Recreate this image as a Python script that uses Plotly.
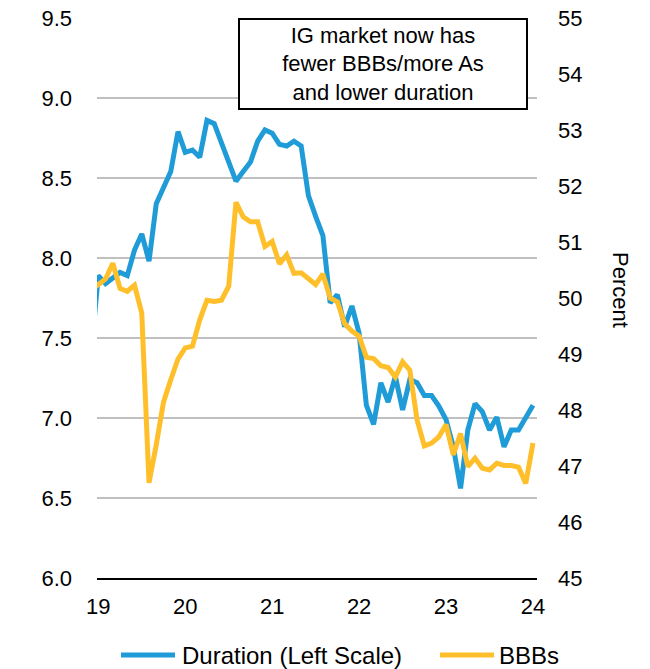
import plotly.graph_objects as go

# Monthly observations, Dec 2018 through Jan 2024 (x in two-digit years)
months_start = 18 + 11 / 12
n_months = 62
x_years = [months_start + k / 12 for k in range(n_months)]

duration = [
    7.40,
    7.89, 7.84, 7.875, 7.91, 7.89, 8.05, 8.15, 7.98, 8.34, 8.44, 8.54, 8.79,
    8.66, 8.675, 8.63, 8.86, 8.84, 8.72, 8.59, 8.48, 8.54, 8.60, 8.73, 8.80,
    8.78, 8.71, 8.70, 8.73, 8.70, 8.39, 8.26, 8.14, 7.72, 7.77, 7.57, 7.70,
    7.53, 7.08, 6.96, 7.22, 7.10, 7.26, 7.05, 7.24, 7.22, 7.14, 7.14, 7.075,
    6.99, 6.82, 6.56, 6.925, 7.09, 7.04, 6.925, 7.005, 6.82, 6.925, 6.925, 7.01,
    7.08,
]

bbbs = [
    50.14,
    50.23, 50.34, 50.62, 50.17, 50.12, 50.23, 49.73, 46.70, 47.38, 48.14, 48.54, 48.91,
    49.11, 49.14, 49.61, 49.96, 49.94, 49.96, 50.21, 51.71, 51.45, 51.36, 51.36, 50.92,
    51.01, 50.61, 50.77, 50.44, 50.45, 50.35, 50.24, 50.43, 50.00, 49.93, 49.54, 49.41,
    49.32, 48.94, 48.92, 48.79, 48.76, 48.59, 48.86, 48.71, 47.82, 47.36, 47.41, 47.52,
    47.74, 47.20, 47.58, 46.99, 47.14, 46.96, 46.93, 47.05, 47.01, 47.01, 46.98, 46.69,
    47.41,
]

series_names = ["Duration (Left Scale)", "BBBs"]
x_tickvals = [19, 20, 21, 22, 23, 24]
x_ticktext = ["19", "20", "21", "22", "23", "24"]
left_tickvals = [6.0, 6.5, 7.0, 7.5, 8.0, 8.5, 9.0, 9.5]
right_tickvals = [45, 46, 47, 48, 49, 50, 51, 52, 53, 54, 55]

BLUE = "#1F9BD7"
YELLOW = "#FFBF2B"
FONT = "Liberation Sans, Arial, sans-serif"

# plot area in pixels: left 97, right 537, top 18, bottom 578
PL, PW, PB, PH = 97, 440, 578, 560


def px_x(p):
    return (p - PL) / PW


def px_y(p):
    return (PB - p) / PH


fig = go.Figure()
fig.add_trace(go.Scatter(
    x=x_years, y=duration, mode="lines", name=series_names[0],
    line=dict(color=BLUE, width=5), yaxis="y",
))
fig.add_trace(go.Scatter(
    x=x_years, y=bbbs, mode="lines", name=series_names[1],
    line=dict(color=YELLOW, width=5), yaxis="y2",
))

# legend drawn below the plot: swatch lines + labels
legend_items = [(series_names[0], BLUE, 121, 175, 180), (series_names[1], YELLOW, 440, 494, 497)]
legend_y = 655
shapes = []
legend_labels = []
for name, color, x0, x1, tx in legend_items:
    shapes.append(dict(
        type="line", xref="paper", yref="paper",
        x0=px_x(x0), x1=px_x(x1), y0=px_y(legend_y), y1=px_y(legend_y),
        line=dict(color=color, width=5),
    ))
    legend_labels.append(dict(
        text=name, xref="paper", yref="paper",
        x=px_x(tx), y=px_y(legend_y), xanchor="left", yanchor="middle",
        showarrow=False, font=dict(size=24),
    ))

fig.update_layout(
    width=650, height=669,
    margin=dict(l=97, r=113, t=18, b=91, autoexpand=False),
    paper_bgcolor="white", plot_bgcolor="white",
    font=dict(family=FONT, size=22, color="black"),
    showlegend=False,
    xaxis=dict(
        range=[18.985, 24.046], tickvals=x_tickvals, ticktext=x_ticktext,
        showgrid=False, zeroline=False, showline=True, linecolor="black",
        linewidth=2, ticks="", ticklabelstandoff=8,
    ),
    yaxis=dict(
        range=[6.0, 9.5], tickvals=left_tickvals, tickformat=".1f",
        showgrid=True, gridcolor="#C0C0C0", gridwidth=2, zeroline=False,
        showline=False, ticks="", ticklabelstandoff=24,
    ),
    yaxis2=dict(
        range=[45, 55], tickvals=right_tickvals, overlaying="y", side="right",
        showgrid=False, zeroline=False, showline=False, ticks="",
        ticklabelstandoff=20,
    ),
    shapes=shapes,
    annotations=[
        dict(
            text="IG market now has<br>fewer BBBs/more As<br>and lower duration",
            xref="paper", yref="paper", x=px_x(383), y=px_y(64),
            xanchor="center", yanchor="middle", showarrow=False,
            font=dict(size=22), align="center",
            bordercolor="black", borderwidth=2, bgcolor="white",
            width=284, height=86, borderpad=1,
        ),
        dict(
            text="Percent", xref="paper", yref="paper",
            x=px_x(621), y=px_y(290),
            xanchor="center", yanchor="middle", showarrow=False,
            textangle=90, font=dict(size=22),
        ),
    ] + legend_labels,
)

fig.write_html("out.html")
